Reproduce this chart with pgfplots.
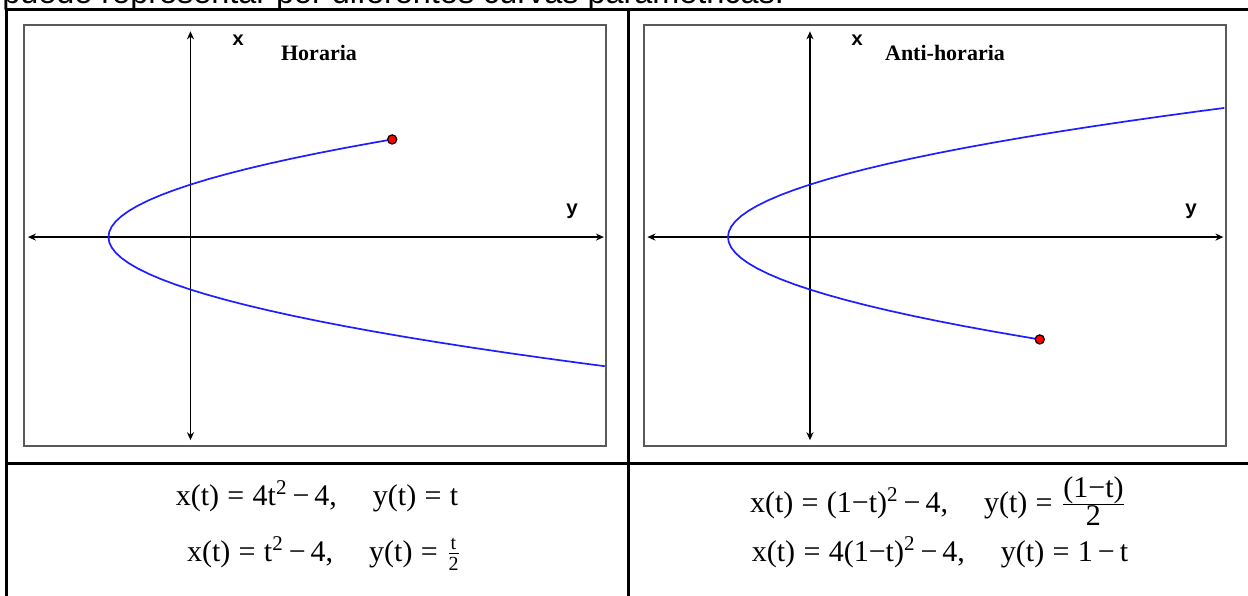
\documentclass[border=0pt]{standalone}
\usepackage{fontspec}
\setmainfont{Liberation Serif}
\newfontfamily\headfont{Liberation Sans}
\newfontfamily\labfont{Liberation Mono}
\usepackage{pgfplots}
\pgfplotsset{compat=1.18}
\usetikzlibrary{arrows.meta}

% parabola x = 4t^2 - 4 sampled along t (upper end stops at the marked point)
\pgfplotstableread{
h v
20.21 -2.46
19.04 -2.40
17.16 -2.30
15.36 -2.20
13.64 -2.10
12.00 -2.00
10.44 -1.90
8.96 -1.80
7.56 -1.70
6.24 -1.60
5.00 -1.50
3.84 -1.40
2.76 -1.30
1.76 -1.20
0.84 -1.10
0.00 -1.00
-0.76 -0.90
-1.44 -0.80
-2.04 -0.70
-2.56 -0.60
-3.00 -0.50
-3.36 -0.40
-3.64 -0.30
-3.84 -0.20
-3.96 -0.10
-4.00 0.00
-3.96 0.10
-3.84 0.20
-3.64 0.30
-3.36 0.40
-3.00 0.50
-2.56 0.60
-2.04 0.70
-1.44 0.80
-0.76 0.90
0.00 1.00
0.84 1.10
1.76 1.20
2.76 1.30
3.84 1.40
5.00 1.50
6.24 1.60
7.56 1.70
8.96 1.80
9.84 1.86
}\horaria

\pgfplotstableread{
h v
11.21 -1.95
10.44 -1.90
8.96 -1.80
7.56 -1.70
6.24 -1.60
5.00 -1.50
3.84 -1.40
2.76 -1.30
1.76 -1.20
0.84 -1.10
0.00 -1.00
-0.76 -0.90
-1.44 -0.80
-2.04 -0.70
-2.56 -0.60
-3.00 -0.50
-3.36 -0.40
-3.64 -0.30
-3.84 -0.20
-3.96 -0.10
-4.00 0.00
-3.96 0.10
-3.84 0.20
-3.64 0.30
-3.36 0.40
-3.00 0.50
-2.56 0.60
-2.04 0.70
-1.44 0.80
-0.76 0.90
0.00 1.00
0.84 1.10
1.76 1.20
2.76 1.30
3.84 1.40
5.00 1.50
6.24 1.60
7.56 1.70
8.96 1.80
10.44 1.90
12.00 2.00
13.64 2.10
15.36 2.20
17.16 2.30
19.04 2.40
20.21 2.46
}\antihoraria

\pgfplotsset{
  panel/.style={
    anchor=south west, scale only axis,
    width=291pt, height=210.5pt,
    xmin=-8.12, xmax=20.27, ymin=-3.98, ymax=4.04,
    ticks=none,
    axis line style={draw=black!65, line width=1pt},
    clip=true,
  },
  curve/.style={color={rgb,255:red,30;green,30;blue,255}, line width=0.85pt, no marks},
  endpoint/.style={only marks, mark=*, mark size=2.3pt,
    mark options={fill=red, draw=black, line width=0.6pt}},
}
\tikzset{
  cross/.style={black, line width=0.8pt,
    {Stealth[length=4pt,width=3.5pt]}-{Stealth[length=4pt,width=3.5pt]}},
}
% spacing used in the parametrisations
\newcommand{\eq}{\;=\;}
\newcommand{\gap}{\hspace{1.2em}}

\begin{document}
\begin{tikzpicture}[x=0.5pt,y=0.5pt]
\useasboundingbox (0,0) rectangle (1248,595);
\begin{scope}
  \clip (0,0) rectangle (1248,595);
  \node[anchor=base west, inner sep=0pt, font=\headfont\fontsize{16.2}{19}\selectfont]
    at (2,591) {puede representar por diferentes curvas paramétricas.};
  % table rules
  \draw[line width=1.5pt] (6,-10) -- (6,585) -- (1260,585);
  \draw[line width=1.5pt] (628,-10) -- (628,585);
  \draw[line width=1.5pt] (6,132) -- (1260,132);
\end{scope}

% left panel: clockwise traversal
\begin{axis}[panel, at={(12pt,74.5pt)}]
  \draw[cross] (axis cs:-7.93,0) -- (axis cs:20.17,0);
  \draw[cross] (axis cs:0,-3.87) -- (axis cs:0,3.92);
  \addplot[curve] table[x=h, y=v] {\horaria};
  \addplot[endpoint] coordinates {(9.84,1.86)};
\end{axis}

% right panel: counter-clockwise traversal
\begin{axis}[panel, at={(321.75pt,74.5pt)}]
  \draw[cross] (axis cs:-7.93,0) -- (axis cs:20.17,0);
  \draw[cross] (axis cs:0,-3.87) -- (axis cs:0,3.92);
  \addplot[curve] table[x=h, y=v] {\antihoraria};
  \addplot[endpoint] coordinates {(11.21,-1.95)};
\end{axis}

% panel captions and axis letters
\node[font=\labfont\bfseries\fontsize{10}{12}\selectfont] at (238,555) {x};
\node[font=\bfseries\fontsize{11}{13}\selectfont] at (319,542) {Horaria};
\node[font=\labfont\bfseries\fontsize{10}{12}\selectfont] at (572,384) {y};
\node[font=\labfont\bfseries\fontsize{10}{12}\selectfont] at (857,555) {x};
\node[font=\bfseries\fontsize{11}{13}\selectfont] at (945,542) {Anti-horaria};
\node[font=\labfont\bfseries\fontsize{10}{12}\selectfont] at (1191,384) {y};

% parametrisations
\begin{scope}[every node/.style={anchor=base, inner sep=0pt, font=\fontsize{15}{17}\selectfont}]
  \node at (317,90) {x(t)\eq4t\textsuperscript{2}\,−\,4,\gap y(t)\eq t};
  \node at (324,34) {x(t)\eq t\textsuperscript{2}\,−\,4,\gap y(t)\eq$\hbox{\fontsize{10}{10}\selectfont t}\over\hbox{\fontsize{10}{10}\selectfont 2}$};
  \node at (938,83) {x(t)\eq(1−t)\textsuperscript{2}\,−\,4,\gap y(t)\eq$\hbox{(1−t)}\over\hbox{2}$};
  \node at (940,34) {x(t)\eq4(1−t)\textsuperscript{2}\,−\,4,\gap y(t)\eq1\,−\,t};
\end{scope}
\end{tikzpicture}
\end{document}
